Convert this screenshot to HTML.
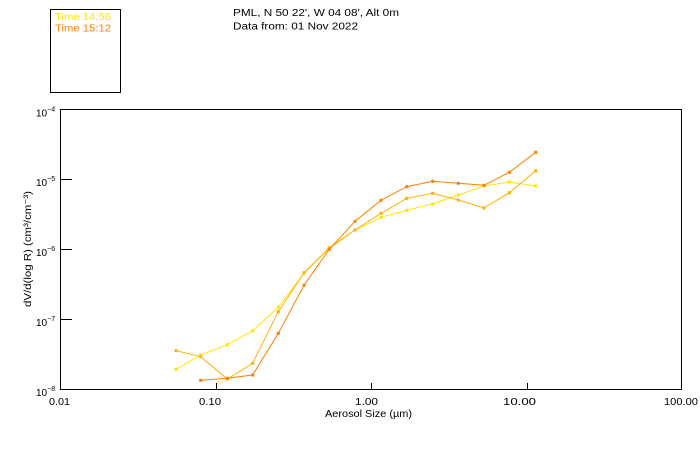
<!DOCTYPE html>
<html>
<head>
<meta charset="utf-8">
<style>
  html,body{margin:0;padding:0;background:#fff;}
  svg{display:block;}
  text{font-family:"Liberation Sans","DejaVu Sans",sans-serif;}
</style>
</head>
<body>
<svg width="700" height="450" viewBox="0 0 700 450" xmlns="http://www.w3.org/2000/svg">
  <rect x="0" y="0" width="700" height="450" fill="#fff"/>

  <!-- Legend box -->
  <rect x="50.5" y="9.5" width="70" height="83" fill="none" stroke="#000" stroke-width="1"/>
  <text x="55" y="20" font-size="10" fill="#FFE600" textLength="56" lengthAdjust="spacingAndGlyphs">Time 14:56</text>
  <text x="55" y="31.5" font-size="10" fill="#FF8000" textLength="56" lengthAdjust="spacingAndGlyphs">Time 15:12</text>

  <!-- Header -->
  <text x="233" y="16" font-size="10" fill="#000" textLength="166" lengthAdjust="spacingAndGlyphs">PML, N 50 22', W 04 08', Alt 0m</text>
  <text x="233" y="29.5" font-size="10" fill="#000" textLength="125" lengthAdjust="spacingAndGlyphs">Data from: 01 Nov 2022</text>

  <!-- Plot frame -->
  <path d="M60.5 109.5 H681.5 V389.5 H60.5 Z" fill="none" stroke="#000" stroke-width="1"/>

  <!-- Y ticks -->
  <path d="M60 179.5 H72 M60 249.5 H72 M60 319.5 H72" stroke="#000" stroke-width="1"/>
  <!-- X ticks -->
  <path d="M216.5 383 V389 M371.5 383 V389 M527.5 383 V389" stroke="#000" stroke-width="1"/>

  <!-- Y tick labels -->
  <g font-size="10" fill="#000">
    <text x="36" y="116.5">10<tspan font-size="7" dy="-5">−4</tspan></text>
    <text x="36" y="186">10<tspan font-size="7" dy="-5">−5</tspan></text>
    <text x="36" y="256">10<tspan font-size="7" dy="-5">−6</tspan></text>
    <text x="36" y="326">10<tspan font-size="7" dy="-5">−7</tspan></text>
    <text x="36" y="396">10<tspan font-size="7" dy="-5">−8</tspan></text>
  </g>

  <!-- X tick labels -->
  <g font-size="10" fill="#000">
    <text x="49" y="405" textLength="21" lengthAdjust="spacingAndGlyphs">0.01</text>
    <text x="199" y="405" textLength="22" lengthAdjust="spacingAndGlyphs">0.10</text>
    <text x="355" y="405" textLength="23" lengthAdjust="spacingAndGlyphs">1.00</text>
    <text x="503" y="405" textLength="33" lengthAdjust="spacingAndGlyphs">10.00</text>
    <text x="664" y="405" textLength="34" lengthAdjust="spacingAndGlyphs">100.00</text>
  </g>

  <!-- Axis titles -->
  <text x="325" y="417" font-size="10" fill="#000" textLength="87" lengthAdjust="spacingAndGlyphs">Aerosol Size (µm)</text>
  <text transform="translate(31,249) rotate(-90)" x="0" y="0" font-size="10" fill="#000" text-anchor="middle" textLength="116" lengthAdjust="spacingAndGlyphs">dV/d(log R)  (cm³/cm⁻³)</text>

  <!-- Yellow series -->
  <g fill="#FFE600">
    <polyline fill="none" stroke="#FFE600" stroke-width="1"
      points="176,369.3 200.7,355 227.3,344.7 252.7,330.7 278.3,307.3 304,273.3 329.3,247.3 355,230 381,217.3 406.7,210.3 432.7,204 458.3,195 484,186 509.3,182 535.7,186"/>
    <rect x="174.5" y="367.8" width="3" height="3"/>
    <rect x="199.2" y="353.5" width="3" height="3"/>
    <rect x="225.8" y="343.2" width="3" height="3"/>
    <rect x="251.2" y="329.2" width="3" height="3"/>
    <rect x="276.8" y="305.8" width="3" height="3"/>
    <rect x="302.5" y="271.8" width="3" height="3"/>
    <rect x="327.8" y="245.8" width="3" height="3"/>
    <rect x="353.5" y="228.5" width="3" height="3"/>
    <rect x="379.5" y="215.8" width="3" height="3"/>
    <rect x="405.2" y="208.8" width="3" height="3"/>
    <rect x="431.2" y="202.5" width="3" height="3"/>
    <rect x="456.8" y="193.5" width="3" height="3"/>
    <rect x="482.5" y="184.5" width="3" height="3"/>
    <rect x="507.8" y="180.5" width="3" height="3"/>
    <rect x="534.2" y="184.5" width="3" height="3"/>
  </g>

  <!-- Middle (amber) series -->
  <g fill="#FFB000">
    <polyline fill="none" stroke="#FFB000" stroke-width="1"
      points="176,350.7 200.7,356.7 227.3,379 252.7,363.3 278.3,311.7 304,272.7 329.3,248.3 355,230 381,213.3 406.7,198.3 432.7,193.3 458.3,200 484,208 509.3,192.7 535.7,170.7"/>
    <rect x="174.5" y="349.2" width="3" height="3"/>
    <rect x="199.2" y="355.2" width="3" height="3"/>
    <rect x="225.8" y="377.5" width="3" height="3"/>
    <rect x="251.2" y="361.8" width="3" height="3"/>
    <rect x="276.8" y="310.2" width="3" height="3"/>
    <rect x="302.5" y="271.2" width="3" height="3"/>
    <rect x="327.8" y="246.8" width="3" height="3"/>
    <rect x="353.5" y="228.5" width="3" height="3"/>
    <rect x="379.5" y="211.8" width="3" height="3"/>
    <rect x="405.2" y="196.8" width="3" height="3"/>
    <rect x="431.2" y="191.8" width="3" height="3"/>
    <rect x="456.8" y="198.5" width="3" height="3"/>
    <rect x="482.5" y="206.5" width="3" height="3"/>
    <rect x="507.8" y="191.2" width="3" height="3"/>
    <rect x="534.2" y="169.2" width="3" height="3"/>
  </g>

  <!-- Orange series -->
  <g fill="#FF8000">
    <polyline fill="none" stroke="#FF8000" stroke-width="1"
      points="200.7,380.3 227.3,378.3 252.7,375 278.3,333.3 304,285.3 329.3,249.3 355,221.3 381,200.3 406.7,186.7 432.7,181.3 458.3,183.3 484,185.3 509.3,172.3 535.7,152.3"/>
    <rect x="199.2" y="378.8" width="3" height="3"/>
    <rect x="225.8" y="376.8" width="3" height="3"/>
    <rect x="251.2" y="373.5" width="3" height="3"/>
    <rect x="276.8" y="331.8" width="3" height="3"/>
    <rect x="302.5" y="283.8" width="3" height="3"/>
    <rect x="327.8" y="247.8" width="3" height="3"/>
    <rect x="353.5" y="219.8" width="3" height="3"/>
    <rect x="379.5" y="198.8" width="3" height="3"/>
    <rect x="405.2" y="185.2" width="3" height="3"/>
    <rect x="431.2" y="179.8" width="3" height="3"/>
    <rect x="456.8" y="181.8" width="3" height="3"/>
    <rect x="482.5" y="183.8" width="3" height="3"/>
    <rect x="507.8" y="170.8" width="3" height="3"/>
    <rect x="534.2" y="150.8" width="3" height="3"/>
  </g>
</svg>
</body>
</html>
